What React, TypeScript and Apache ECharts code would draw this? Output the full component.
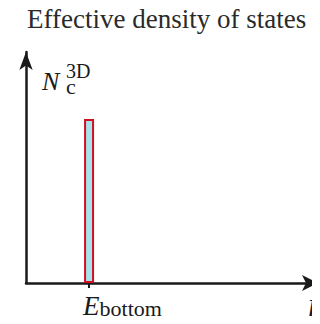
import React, { useEffect, useRef } from "react";
import * as echarts from "echarts";

// Energy position of the band bottom (arbitrary units on the E axis) and the
// effective density of states concentrated there.
const energies = [21.6];
const density = [0.71];
const tickLabels = ["E_bottom"];

const SERIF = "'Liberation Serif', 'Times New Roman', serif";
const INK = "#1a1a1a";

export default function App() {
  const ref = useRef<HTMLDivElement>(null);

  useEffect(() => {
    if (!ref.current) return;
    const chart = echarts.init(ref.current, undefined, { renderer: "svg" });
    const labelFor = (v: number) => {
      const i = energies.findIndex((e) => Math.abs(e - v) < 1e-6);
      if (i < 0) return "";
      const [main, sub] = tickLabels[i].split("_");
      return `{e|${main}}{s|${sub}}`;
    };
    chart.setOption({
      animation: false,
      title: {
        text: "Effective density of states",
        left: 27,
        top: 5,
        padding: 0,
        textStyle: { fontFamily: SERIF, fontSize: 27, fontWeight: "normal", color: "#2a2a2a" },
      },
      grid: { left: 26, right: 2, top: 52, bottom: 41, containLabel: false },
      xAxis: {
        type: "value",
        min: 0,
        max: 100,
        splitLine: { show: false },
        axisLine: {
          show: true,
          onZero: false,
          symbol: ["none", "arrow"],
          symbolSize: [12, 16],
          symbolOffset: [0, 0],
          lineStyle: { color: INK, width: 2.5 },
        },
        axisTick: { show: true, customValues: energies, length: 5, lineStyle: { color: INK, width: 2 } },
        axisLabel: {
          show: true,
          customValues: energies,
          formatter: labelFor,
          margin: 10,
          align: "left",
          padding: [0, 0, 0, -6],
          rich: {
            // subscript sits lower: its short line box is pinned to the bottom of the line
            e: { fontFamily: SERIF, fontStyle: "italic", fontSize: 27, color: INK, lineHeight: 26, verticalAlign: "bottom" },
            s: { fontFamily: SERIF, fontSize: 22, color: INK, lineHeight: 14, verticalAlign: "bottom" },
          },
        },
      },
      yAxis: {
        type: "value",
        min: 0,
        max: 1,
        splitLine: { show: false },
        axisTick: { show: false },
        axisLabel: { show: false },
        axisLine: {
          show: true,
          onZero: false,
          symbol: ["none", "arrow"],
          symbolSize: [10, 18],
          symbolOffset: [0, 0],
          lineStyle: { color: INK, width: 2.5 },
        },
      },
      graphic: [
        { type: "text", left: 42, top: 68, style: { text: "N", font: `italic 26px ${SERIF}`, lineHeight: 20, fill: INK } },
        {
          type: "text",
          left: 66,
          top: 61,
          style: {
            text: "{sup|3D}\n{sub|c}",
            fill: INK,
            rich: {
              sup: { fontFamily: SERIF, fontSize: 20, lineHeight: 15, fill: INK },
              sub: { fontFamily: SERIF, fontSize: 22, lineHeight: 16, fill: INK },
            },
          },
        },
        { type: "text", left: 307, top: 295, style: { text: "E", font: `italic 27px ${SERIF}`, fill: INK } },
      ],
      series: [
        {
          type: "bar",
          data: energies.map((e, i) => [e, density[i]]),
          barWidth: 10,
          itemStyle: { color: "#a8e2ea", borderColor: "#cf1020", borderWidth: 2 },
        },
      ],
    });
    return () => chart.dispose();
  }, []);

  return <div ref={ref} style={{ width: 320, height: 324, margin: -8 }} />;
}
